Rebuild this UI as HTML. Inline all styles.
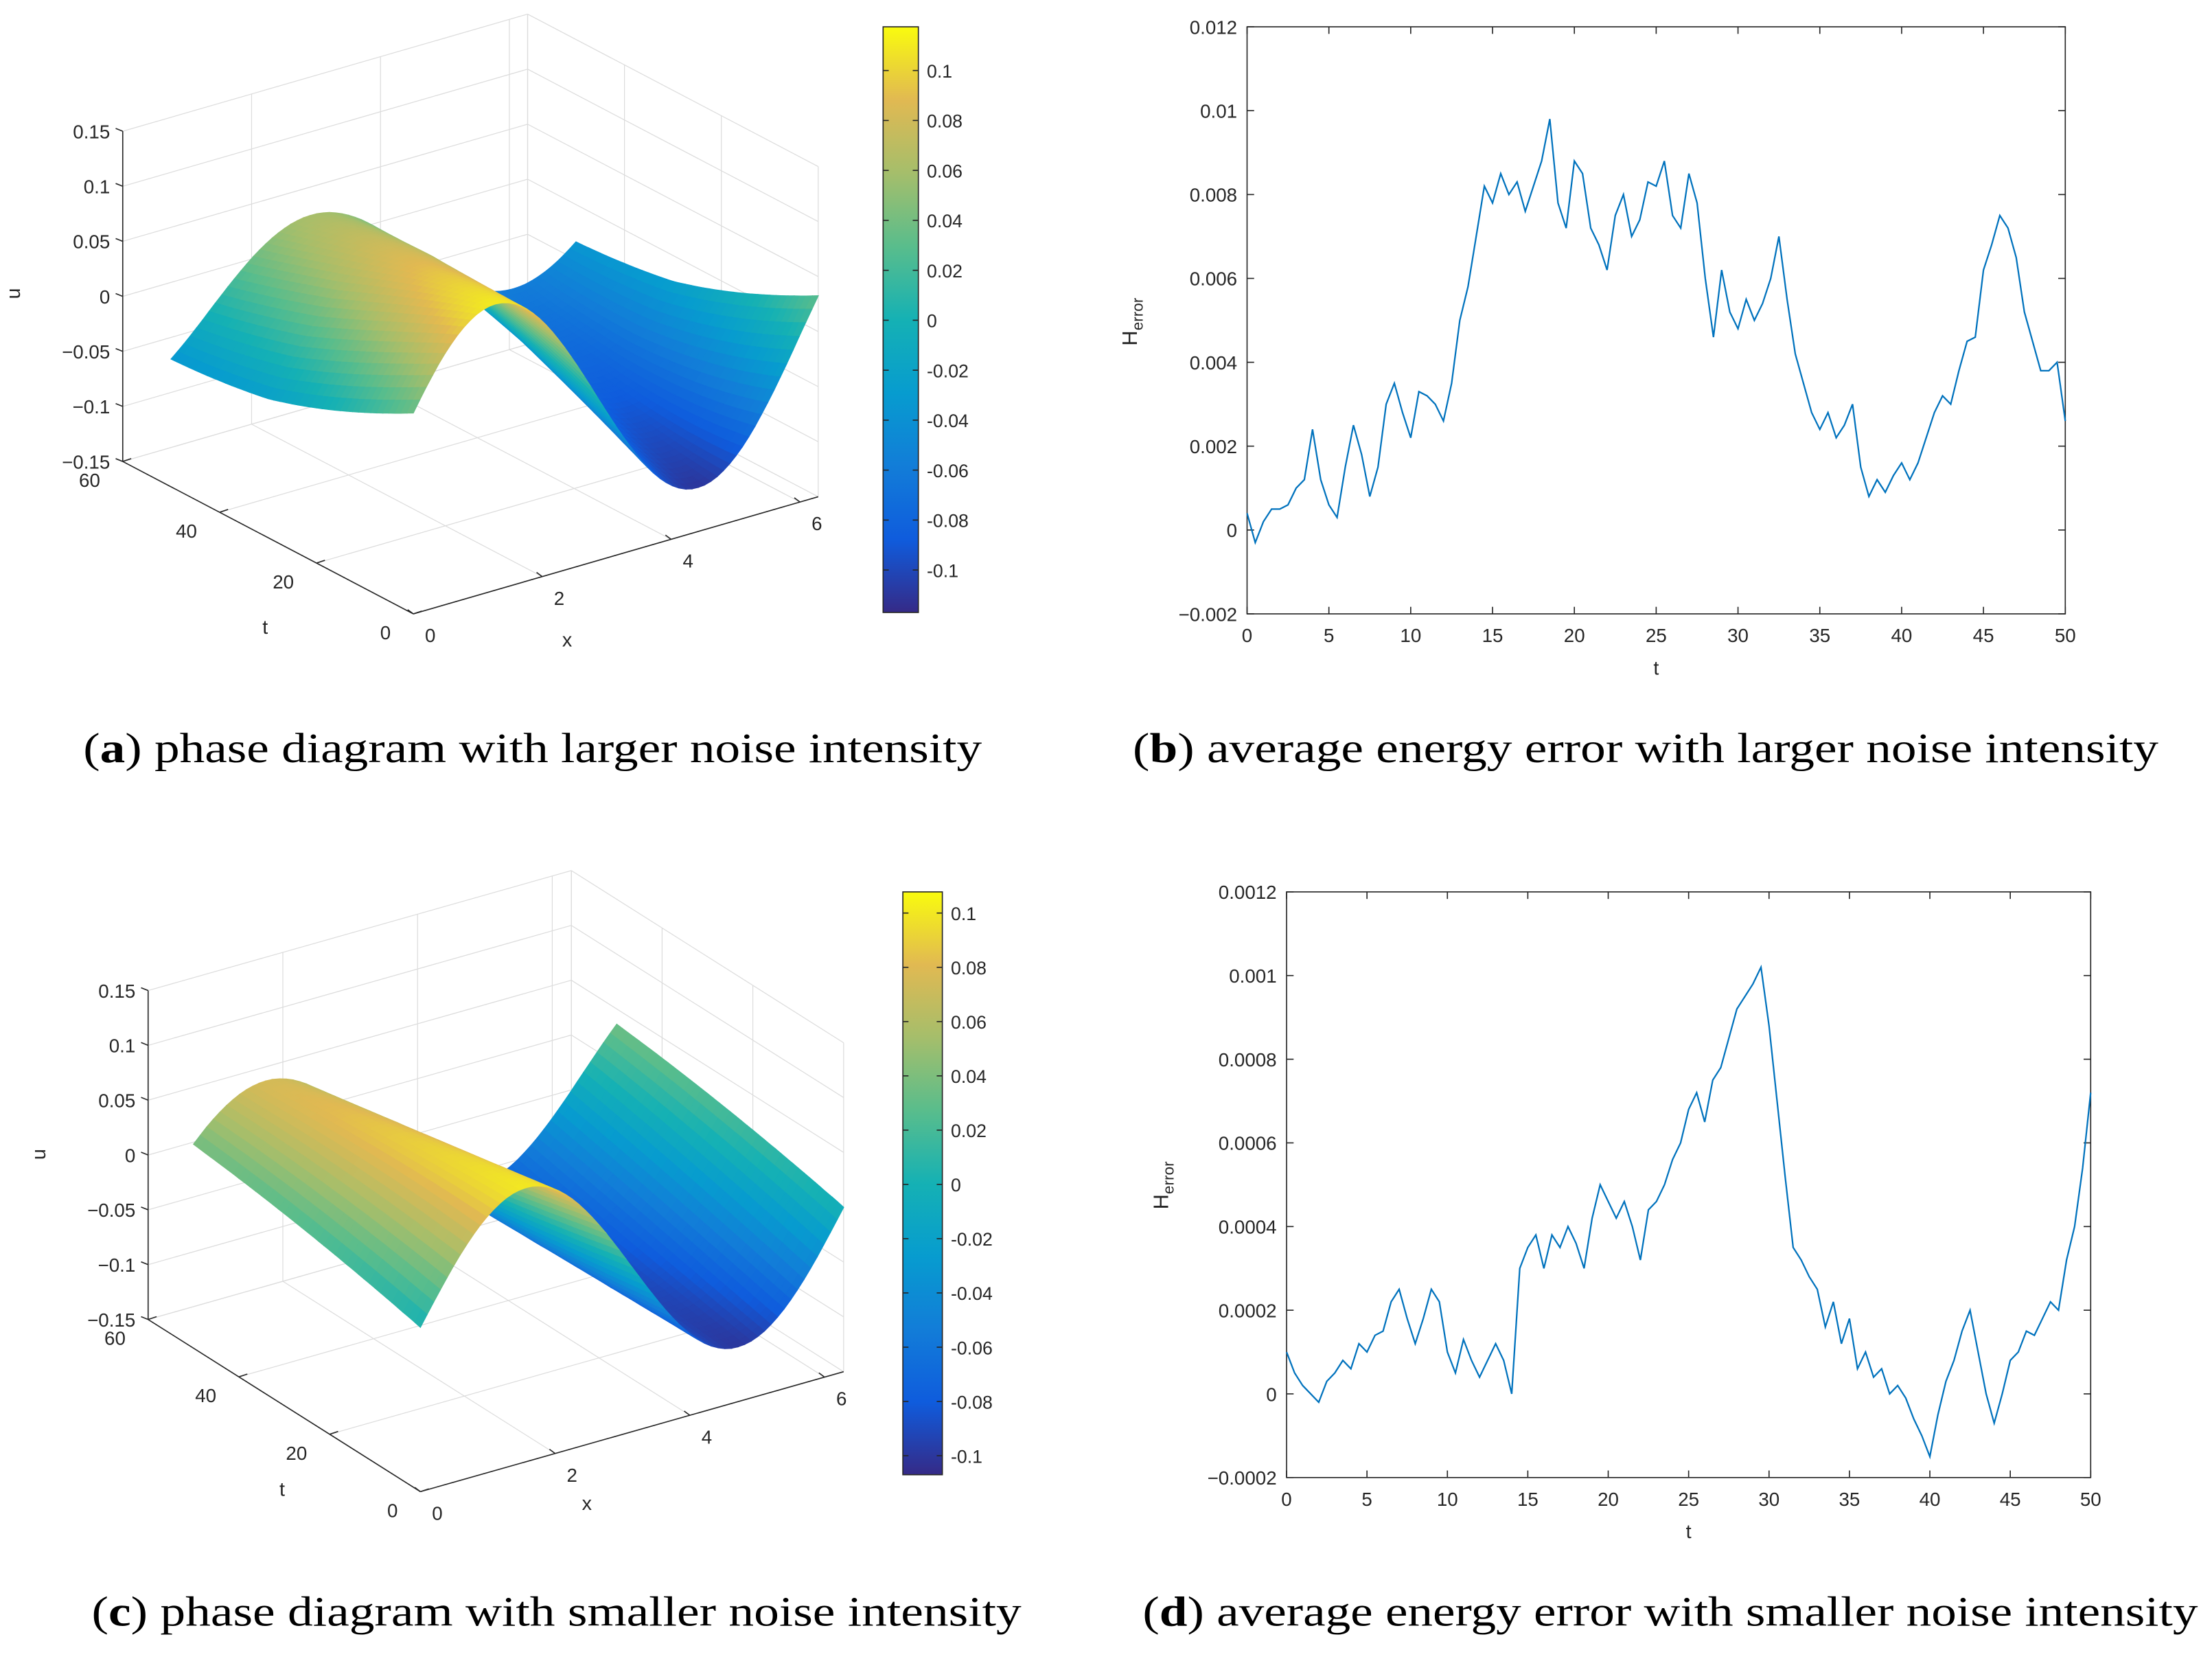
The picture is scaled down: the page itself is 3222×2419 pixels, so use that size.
<!DOCTYPE html>
<html><head><meta charset="utf-8"><style>
html,body{margin:0;padding:0;background:#fff;}
svg{display:block;}
text{font-family:"Liberation Sans",sans-serif;fill:#262626;}
.cap{font-family:"Liberation Serif",serif;fill:#000;font-size:30px;}
</style></head><body>
<svg id="fig" xmlns="http://www.w3.org/2000/svg" width="3222" height="2419" viewBox="0 0 1568 1177" preserveAspectRatio="none">
<defs>
<linearGradient id="parula" x1="0" y1="1" x2="0" y2="0">
<stop offset="0" stop-color="rgb(53,42,135)"/><stop offset="0.125" stop-color="rgb(15,92,221)"/><stop offset="0.25" stop-color="rgb(18,125,216)"/><stop offset="0.375" stop-color="rgb(7,156,207)"/><stop offset="0.5" stop-color="rgb(21,177,180)"/><stop offset="0.625" stop-color="rgb(89,189,140)"/><stop offset="0.75" stop-color="rgb(165,190,107)"/><stop offset="0.875" stop-color="rgb(225,185,82)"/><stop offset="1" stop-color="rgb(249,251,14)"/>
</linearGradient>
</defs>
<g id="pa"></g>
<g id="pb"></g>
<g id="pc"></g>
<g id="pd"></g>
<text class="cap" x="59" y="540" textLength="637" lengthAdjust="spacingAndGlyphs">(<tspan font-weight="bold">a</tspan>) phase diagram with larger noise intensity</text>
<text class="cap" x="803" y="540" textLength="727" lengthAdjust="spacingAndGlyphs">(<tspan font-weight="bold">b</tspan>) average energy error with larger noise intensity</text>
<text class="cap" x="65" y="1152" textLength="659" lengthAdjust="spacingAndGlyphs">(<tspan font-weight="bold">c</tspan>) phase diagram with smaller noise intensity</text>
<text class="cap" x="810" y="1152" textLength="748" lengthAdjust="spacingAndGlyphs">(<tspan font-weight="bold">d</tspan>) average energy error with smaller noise intensity</text>
</svg>
<script>
// ---- data ----
const tStepB = 0.5;
const seriesB = [0.0004,-0.0003,0.0002,0.0005,0.0005,0.0006,0.001,0.0012,0.0024,0.0012,0.0006,0.0003,0.0015,0.0025,0.0018,0.0008,0.0015,0.003,0.0035,0.0028,0.0022,0.0033,0.0032,0.003,0.0026,0.0035,0.005,0.0058,0.007,0.0082,0.0078,0.0085,0.008,0.0083,0.0076,0.0082,0.0088,0.0098,0.0078,0.0072,0.0088,0.0085,0.0072,0.0068,0.0062,0.0075,0.008,0.007,0.0074,0.0083,0.0082,0.0088,0.0075,0.0072,0.0085,0.0078,0.006,0.0046,0.0062,0.0052,0.0048,0.0055,0.005,0.0054,0.006,0.007,0.0055,0.0042,0.0035,0.0028,0.0024,0.0028,0.0022,0.0025,0.003,0.0015,0.0008,0.0012,0.0009,0.0013,0.0016,0.0012,0.0016,0.0022,0.0028,0.0032,0.003,0.0038,0.0045,0.0046,0.0062,0.0068,0.0075,0.0072,0.0065,0.0052,0.0045,0.0038,0.0038,0.004,0.0026];
const yTicksB = [0.012,0.01,0.008,0.006,0.004,0.002,0,-0.002];
const yTickLabelsB = ["0.012","0.01","0.008","0.006","0.004","0.002","0","\u22120.002"];
const tStepD = 0.5;
const seriesD = [1.0,0.5,0.2,0.0,-0.2,0.3,0.5,0.8,0.6,1.2,1.0,1.4,1.5,2.2,2.5,1.8,1.2,1.8,2.5,2.2,1.0,0.5,1.3,0.8,0.4,0.8,1.2,0.8,0.0,3.0,3.5,3.8,3.0,3.8,3.5,4.0,3.6,3.0,4.2,5.0,4.6,4.2,4.6,4.0,3.2,4.4,4.6,5.0,5.6,6.0,6.8,7.2,6.5,7.5,7.8,8.5,9.2,9.5,9.8,10.2,8.8,7.0,5.2,3.5,3.2,2.8,2.5,1.6,2.2,1.2,1.8,0.6,1.0,0.4,0.6,0.0,0.2,-0.1,-0.6,-1.0,-1.5,-0.5,0.3,0.8,1.5,2.0,1.0,0.0,-0.7,0.0,0.8,1.0,1.5,1.4,1.8,2.2,2.0,3.2,4.0,5.4,7.2].map(v=>v*1e-4);
const yTicksD = [0.0012,0.001,0.0008,0.0006,0.0004,0.0002,0,-0.0002];
const yTickLabelsD = ["0.0012","0.001","0.0008","0.0006","0.0004","0.0002","0","\u22120.0002"];
const xTicks2D = [0,5,10,15,20,25,30,35,40,45,50];
// surface: amplitude & phase of the wave sampled at these t
const tSamples = [0,10,20,30,40,50];
const ampA = [0.11,0.10,0.09,0.08,0.07,0.06];
const phaseA = [-0.3,-0.1,0.1,0.3,0.45,0.6];
const ampC = [0.10,0.095,0.09,0.085,0.08,0.075];
const phaseC = [0,-0.1,-0.2,-0.3,-0.4,-0.5];
const zTicks = [0.15,0.1,0.05,0,-0.05,-0.1,-0.15];
const zTickLabels = ["0.15","0.1","0.05","0","\u22120.05","\u22120.1","\u22120.15"];
const cbTicks = [0.1,0.08,0.06,0.04,0.02,0,-0.02,-0.04,-0.06,-0.08,-0.1];
const cbTickLabels = ["0.1","0.08","0.06","0.04","0.02","0","-0.02","-0.04","-0.06","-0.08","-0.1"];

const NS="http://www.w3.org/2000/svg";
function mk(tag,attrs,parent){const e=document.createElementNS(NS,tag);for(const k in attrs)e.setAttribute(k,attrs[k]);parent.appendChild(e);return e;}
function txt(s,x,y,anchor,size,parent,name){const e=mk('text',{x:x,y:y,'text-anchor':anchor,'font-size':size},parent);e.textContent=s;


return e;}

// ---- 2D plot ----
function plot2D(g,box,yMin,yMax,yt,ytl,series,step,ylabPos,xlabY){
  const X=v=>box.l+(v-0)/(50-0)*(box.r-box.l);
  const Y=v=>box.b-(v-yMin)/(yMax-yMin)*(box.b-box.t);
  const ax=mk('rect',{x:box.l,y:box.t,width:box.r-box.l,height:box.b-box.t,fill:'#fff',stroke:'#262626','stroke-width':0.8},g);
  
  
  yt.forEach((v,i)=>{const y=Y(v);
    mk('line',{x1:box.l,y1:y,x2:box.l+5,y2:y,stroke:'#262626','stroke-width':0.8},g);
    mk('line',{x1:box.r,y1:y,x2:box.r-5,y2:y,stroke:'#262626','stroke-width':0.8},g);
    txt(ytl[i],box.l-7,y+5,'end',13.5,g,'y-tick-label');});
  xTicks2D.forEach(v=>{const x=X(v);
    mk('line',{x1:x,y1:box.b,x2:x,y2:box.b-5,stroke:'#262626','stroke-width':0.8},g);
    mk('line',{x1:x,y1:box.t,x2:x,y2:box.t+5,stroke:'#262626','stroke-width':0.8},g);
    txt(String(v),x,box.b+20,'middle',13.5,g,'x-tick-label');});
  let d='';series.forEach((v,i)=>{d+=(i?'L':'M')+X(i*step).toFixed(2)+','+Y(v).toFixed(2);});
  const p=mk('path',{d:d,fill:'none',stroke:'#0072BD','stroke-width':1.1},g);
  
  
  txt('t',(box.l+box.r)/2,xlabY,'middle',14,g,'x-axis-title');
  const yl=mk('text',{x:0,y:0,'font-size':15,transform:`translate(${ylabPos[0]},${ylabPos[1]}) rotate(-90)`,'text-anchor':'middle'},g);
  yl.innerHTML='H<tspan font-size="11" dy="4">error</tspan>';
  
  
}
plot2D(document.getElementById('pb'),{l:884,r:1464,t:19,b:435},-0.002,0.012,yTicksB,yTickLabelsB,seriesB,tStepB,[806,228],478);
plot2D(document.getElementById('pd'),{l:912,r:1482,t:632,b:1047},-0.0002,0.0012,yTicksD,yTickLabelsD,seriesD,tStepD,[828,840],1090);

// ---- parula ----
const stops=[[53,42,135],[15,92,221],[18,125,216],[7,156,207],[21,177,180],[89,189,140],[165,190,107],[225,185,82],[249,251,14]];
function parula(f){f=Math.max(0,Math.min(1,f))*(stops.length-1);const i=Math.min(stops.length-2,Math.floor(f));const r=f-i;
 const c=stops[i].map((v,k)=>Math.round(v+(stops[i+1][k]-v)*r));return `rgb(${c[0]},${c[1]},${c[2]})`;}
function interp(arr,t){const s=t/10;const i=Math.min(arr.length-2,Math.floor(s));const r=s-i;return arr[i]+(arr[i+1]-arr[i])*r;}

// ---- 3D plot ----
function plot3D(g,cfg,amp,phase){
  const P=(x,t,z)=>[cfg.O[0]+cfg.ex[0]*x+cfg.et[0]*t, cfg.O[1]+cfg.ex[1]*x+cfg.et[1]*t+cfg.ez*(z+0.15)];
  const gray='#dcdcdc';const XM=2*Math.PI, TM=60;
  const ln=(a,b,c,w)=>mk('line',{x1:a[0],y1:a[1],x2:b[0],y2:b[1],stroke:c,'stroke-width':w||0.6},g);
  zTicks.forEach(z=>{ln(P(0,TM,z),P(XM,TM,z),gray);ln(P(XM,TM,z),P(XM,0,z),gray);});
  [0,2,4,6].forEach(x=>{ln(P(x,TM,-0.15),P(x,TM,0.15),gray);ln(P(x,0,-0.15),P(x,TM,-0.15),gray);});
  [0,20,40,60].forEach(t=>{ln(P(XM,t,-0.15),P(XM,t,0.15),gray);ln(P(0,t,-0.15),P(XM,t,-0.15),gray);});
  ln(P(XM,TM,-0.15),P(XM,TM,0.15),gray);
  const nx=64, nt=40, tMax=50;const u=(x,t)=>interp(amp,t)*Math.sin(x-interp(phase,t));
  const quads=[];
  for(let i=0;i<nx;i++)for(let j=0;j<nt;j++){const x0=XM*i/nx,x1=XM*(i+1)/nx,t0=tMax*j/nt,t1=tMax*(j+1)/nt;quads.push([x0,x1,t0,t1,x0/XM+t0/TM]);}
  quads.sort((a,b)=>b[4]-a[4]);
  const sg=mk('g',{},g);
  
  
  quads.forEach(q=>{const [x0,x1,t0,t1]=q;const pts=[[x0,t0],[x1,t0],[x1,t1],[x0,t1]];
    const uv=pts.map(p=>u(p[0],p[1]));const m=uv.reduce((a,b)=>a+b)/4;
    const col=parula((m-cfg.cmin)/(cfg.cmax-cfg.cmin));
    mk('polygon',{points:pts.map((p,k)=>P(p[0],p[1],uv[k]).map(v=>v.toFixed(1)).join(',')).join(' '),fill:col,stroke:col,'stroke-width':0.7},sg);});
  ln(P(0,TM,-0.15),P(0,TM,0.15),'#262626',0.8);
  ln(P(0,TM,-0.15),P(0,0,-0.15),'#262626',0.8);
  ln(P(0,0,-0.15),P(XM,0,-0.15),'#262626',0.8);
  zTicks.forEach((z,i)=>{const p=P(0,TM,z);ln(p,[p[0]-5,p[1]-2],'#262626',0.8);txt(zTickLabels[i],p[0]-9,p[1]+5,'end',13.5,g,'z-tick-label');});
  [0,20,40,60].forEach(t=>{const p=P(0,t,-0.15);ln(p,[p[0]+6,p[1]-2],'#262626',0.8);txt(String(t),p[0]-16,p[1]+18,'end',13.5,g,'t-tick-label');});
  [0,2,4,6].forEach(x=>{const p=P(x,0,-0.15);ln(p,[p[0]-4,p[1]-3],'#262626',0.8);txt(String(x),p[0]+12,p[1]+20,'middle',13.5,g,'x-tick-label');});
  txt('u',cfg.ulab[0],cfg.ulab[1],'middle',14,g,'z-axis-title').setAttribute('transform',`rotate(-90 ${cfg.ulab[0]} ${cfg.ulab[1]})`);
  txt('t',cfg.tlab[0],cfg.tlab[1],'middle',14,g,'t-axis-title');
  txt('x',cfg.xlab[0],cfg.xlab[1],'middle',14,g,'x-axis-title');
  const cb=cfg.cb;const cy=v=>cb.b-(v-cfg.cmin)/(cfg.cmax-cfg.cmin)*(cb.b-cb.t);
  const r=mk('rect',{x:cb.l,y:cb.t,width:cb.r-cb.l,height:cb.b-cb.t,fill:'url(#parula)',stroke:'#262626','stroke-width':0.8},g);
  
  
  cbTicks.forEach((v,i)=>{const y=cy(v);ln([cb.r,y],[cb.r-4,y],'#262626',0.8);ln([cb.l,y],[cb.l+4,y],'#262626',0.8);
    txt(cbTickLabels[i],cb.r+6,y+5,'start',13,g,'colorbar-tick-label');});
}
plot3D(document.getElementById('pa'),{O:[293,435],ex:[287/(2*Math.PI),-83/(2*Math.PI)],et:[-206/60,-108/60],ez:-780,
  cmin:-0.117,cmax:0.1175,cb:{l:626,r:651,t:19,b:434},ulab:[14,208],tlab:[188,449],xlab:[402,458]},ampA,phaseA);
plot3D(document.getElementById('pc'),{O:[298,1057],ex:[300/(2*Math.PI),-85/(2*Math.PI)],et:[-193/60,-122/60],ez:-777,
  cmin:-0.107,cmax:0.1078,cb:{l:640,r:668,t:632,b:1045},ulab:[32,818],tlab:[200,1060],xlab:[416,1070]},ampC,phaseC);
</script>
</body></html>
